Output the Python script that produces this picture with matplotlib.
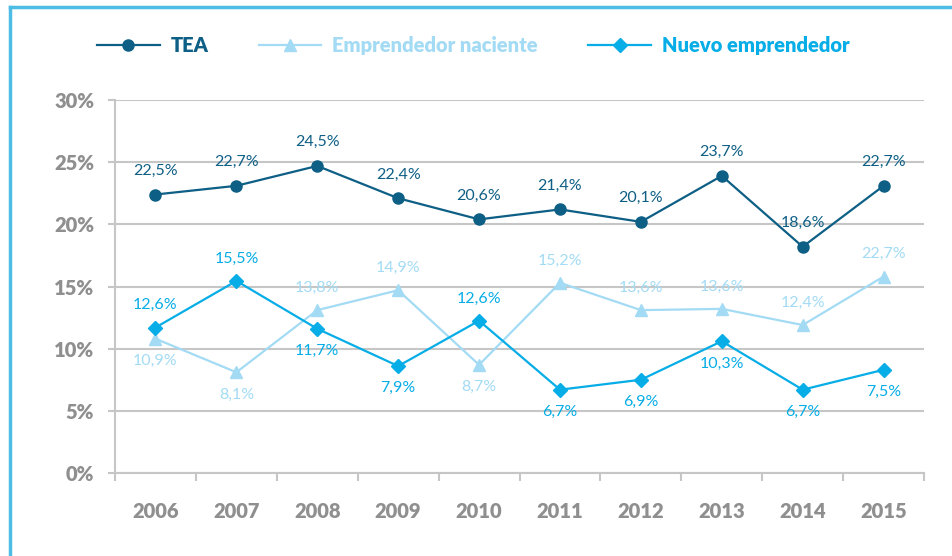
import numpy as np
import matplotlib
matplotlib.use("Agg")
import matplotlib.pyplot as plt
from matplotlib.lines import Line2D

# ── data ─────────────────────────────────────────────────────────────
years = ["2006", "2007", "2008", "2009", "2010",
         "2011", "2012", "2013", "2014", "2015"]

tea = [22.4, 23.1, 24.7, 22.1, 20.4, 21.2, 20.2, 23.9, 18.2, 23.1]
tea_lbl = ["22,5%", "22,7%", "24,5%", "22,4%", "20,6%",
           "21,4%", "20,1%", "23,7%", "18,6%", "22,7%"]

naciente = [10.8, 8.1, 13.1, 14.7, 8.7, 15.3, 13.1, 13.2, 11.9, 15.8]
naciente_lbl = ["10,9%", "8,1%", "13,8%", "14,9%", "8,7%",
                "15,2%", "13,6%", "13,6%", "12,4%", "22,7%"]
naciente_pos = ["below", "below", "above", "above", "below",
                "above", "above", "above", "above", "above"]

nuevo = [11.7, 15.45, 11.6, 8.6, 12.25, 6.7, 7.5, 10.6, 6.7, 8.3]
nuevo_lbl = ["12,6%", "15,5%", "11,7%", "7,9%", "12,6%",
             "6,7%", "6,9%", "10,3%", "6,7%", "7,5%"]
nuevo_pos = ["above", "above", "below", "below", "above",
             "below", "below", "below", "below", "below"]

yticks = [0, 5, 10, 15, 20, 25, 30]

# ── style ────────────────────────────────────────────────────────────
C_TEA = "#0e5f85"
C_NAC = "#a3dbf4"
C_NUE = "#07ade6"
C_GRID = "#c6c6c6"
C_TXT = "#8f8f8f"
C_BORDER = "#4dbde6"

plt.rcParams.update({
    "font.family": ["Lato", "DejaVu Sans"],
    "figure.dpi": 100,
})

fig = plt.figure(figsize=(9.53, 5.56))
ax = fig.add_axes([0.1207, 0.1493, 0.8489, 0.6708])

x = np.arange(len(years))

ax.plot(x, tea, color=C_TEA, lw=1.6, marker="o", ms=8, zorder=5)
ax.plot(x, naciente, color=C_NAC, lw=1.6, marker="^", ms=8, zorder=3)
ax.plot(x, nuevo, color=C_NUE, lw=1.6, marker="D", ms=7.5, zorder=4)

# data labels
for i in range(len(years)):
    ax.annotate(tea_lbl[i], (x[i], tea[i]), xytext=(0, 12),
                textcoords="offset points", ha="center", va="bottom",
                fontsize=11.5, color=C_TEA, zorder=6)
    off = 11 if naciente_pos[i] == "above" else -11
    ax.annotate(naciente_lbl[i], (x[i], naciente[i]), xytext=(0, off),
                textcoords="offset points", ha="center",
                va="bottom" if off > 0 else "top",
                fontsize=11.5, color=C_NAC, zorder=6)
    off = 11 if nuevo_pos[i] == "above" else -11
    ax.annotate(nuevo_lbl[i], (x[i], nuevo[i]), xytext=(0, off),
                textcoords="offset points", ha="center",
                va="bottom" if off > 0 else "top",
                fontsize=11.5, color=C_NUE, zorder=6)

# axes
ax.set_xlim(-0.5, len(years) - 0.5)
ax.set_ylim(0, 30)
ax.set_yticks(yticks)
ax.set_yticklabels([f"{v}%" for v in yticks], fontsize=14.5,
                   fontweight="heavy", color=C_TXT)
ax.set_xticks(x)
ax.set_xticklabels(years, fontsize=14.5, fontweight="heavy", color=C_TXT)
ax.set_xticks(np.arange(-0.5, len(years)), minor=True)
ax.tick_params(axis="x", which="major", length=0, pad=21)
ax.tick_params(axis="x", which="minor", length=6, width=1.5,
               color=C_GRID, direction="out")
ax.tick_params(axis="y", length=5, width=1.5, color=C_GRID, pad=10)

ax.grid(axis="y", color=C_GRID, lw=1.5)
ax.set_axisbelow(True)
for s in ["top", "right"]:
    ax.spines[s].set_visible(False)
for s in ["left", "bottom"]:
    ax.spines[s].set_color(C_GRID)
    ax.spines[s].set_linewidth(1.5)

# legend
handles = [
    Line2D([], [], color=C_TEA, lw=1.6, marker="o", ms=8),
    Line2D([], [], color=C_NAC, lw=1.6, marker="^", ms=8),
    Line2D([], [], color=C_NUE, lw=1.6, marker="D", ms=7.5),
]
leg = fig.legend(handles, ["TEA", "Emprendedor naciente", "Nuevo emprendedor"],
                 loc="center left", bbox_to_anchor=(0.083, 0.918), ncol=3,
                 frameon=False, handlelength=3.1, handletextpad=0.55,
                 columnspacing=2.5, prop={"size": 14.5, "weight": "heavy"})
for t, c in zip(leg.get_texts(), [C_TEA, C_NAC, C_NUE]):
    t.set_color(c)

# border (top and left)
fig.add_artist(Line2D([0.0107, 1.0], [0.9875, 0.9875], color=C_BORDER,
                      lw=2.5, transform=fig.transFigure))
fig.add_artist(Line2D([0.0107, 0.0107], [0.0, 0.9875], color=C_BORDER,
                      lw=2.5, transform=fig.transFigure))

fig.savefig("out.png", dpi=100, facecolor="white")
